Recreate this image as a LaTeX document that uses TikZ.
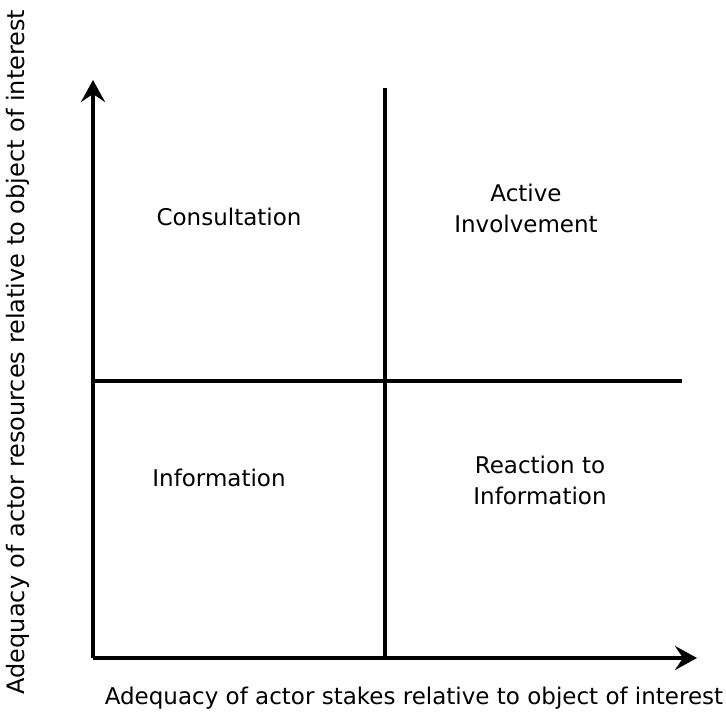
\documentclass[tikz,border=0pt]{standalone}
\usepackage{fontspec}
\setmainfont{DejaVu Sans}
\usetikzlibrary{arrows.meta}
\tikzset{
    axis/.style={line width=3.5pt,-{Stealth[length=22pt,width=24pt,inset=8pt]}},
    divider/.style={line width=3.5pt},
    quad/.style={align=center,font=\fontsize{23}{31}\selectfont},
    axislabel/.style={font=\fontsize{23}{27}\selectfont}
}
\begin{document}
\begin{tikzpicture}[x=1pt,y=-1pt]
    \useasboundingbox (0,0) rectangle (726,719);
    \coordinate (Origin) at (93,658);
    \coordinate (YEnd) at (93,80);
    \coordinate (XEnd) at (697,658);
    \coordinate (DivTop) at (385,88);
    \coordinate (DivBottom) at (385,658);
    \coordinate (DivLeft) at (93,381);
    \coordinate (DivRight) at (682,381);
    % quadrant lines
    \draw[divider] (DivTop) -- (DivBottom);
    \draw[divider] (DivLeft) -- (DivRight);
    % axes
    \draw[axis] (Origin) -- (YEnd);
    \draw[axis] (Origin) -- (XEnd);
    % quadrant labels
    \node[quad] (consult) at (229,217) {Consultation};
    \node[quad] (active) at (526,208) {Active\\Involvement};
    \node[quad] (info) at (219,478) {Information};
    \node[quad] (react) at (540,480) {Reaction to\\Information};
    % axis labels
    \node[axislabel] (xlabel) at (414,698) {Adequacy of actor stakes relative to object of interest};
    \node[axislabel,rotate=90,font=\fontsize{24}{28}\selectfont] (ylabel) at (18,352) {Adequacy of actor resources relative to object of interest};
\end{tikzpicture}
\end{document}
